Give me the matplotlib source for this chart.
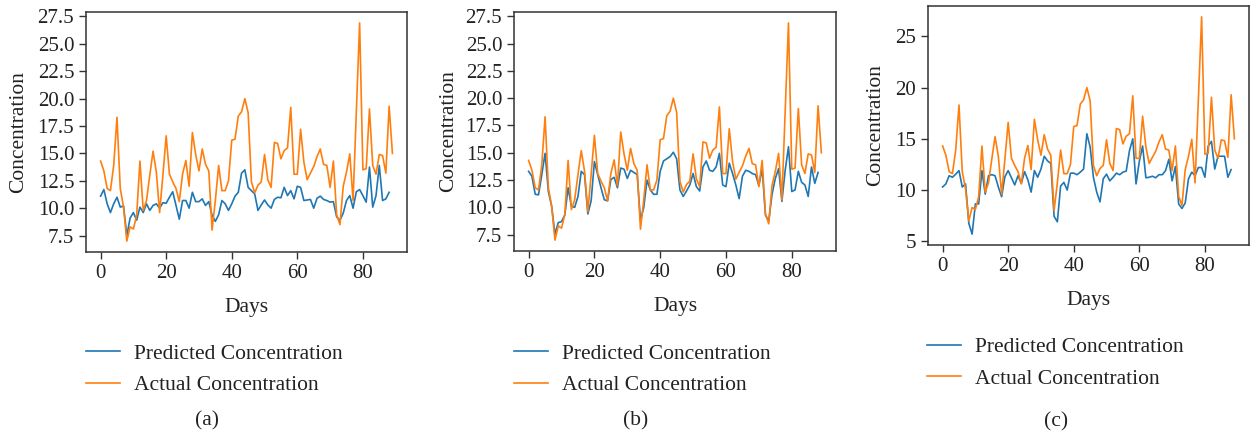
import numpy as np
import matplotlib
matplotlib.use("Agg")
import matplotlib.pyplot as plt

plt.rcParams['font.family'] = ['Liberation Serif', 'DejaVu Serif']
plt.rcParams['font.size'] = 15.5

# actual concentration (same series in all three panels)
actual = [14.3, 13.4, 11.8, 11.6, 13.9, 18.3, 11.8, 10.1, 7.0, 8.3,
          8.1, 9.35, 14.3, 9.8, 10.7, 13.0, 15.2, 13.3, 9.6, 13.0,
          16.6, 13.1, 12.4, 11.8, 10.6, 13.1, 14.35, 12.0, 16.9, 14.9,
          13.4, 15.4, 14.0, 13.4, 8.0, 10.7, 13.9, 11.6, 11.6, 12.5,
          16.2, 16.3, 18.4, 18.8, 20.0, 18.7, 12.4, 11.4, 12.1, 12.4,
          14.9, 12.6, 11.9, 16.0, 15.9, 14.5, 15.25, 15.5, 19.2, 13.1,
          13.1, 17.2, 14.2, 12.6, 13.2, 13.8, 14.7, 15.4, 14.0, 13.9,
          11.9, 14.3, 9.4, 8.5, 12.0, 13.3, 14.95, 10.7, 18.8, 26.9,
          13.5, 13.6, 19.05, 13.9, 13.1, 14.9, 14.8, 13.2, 19.3, 15.0]

# predicted concentration, panels (a), (b), (c)
pred_a = [11.1, 11.7, 10.4, 9.6, 10.4, 11.0, 10.1, 10.2, 7.5, 9.1,
          9.6, 8.9, 10.1, 9.6, 10.4, 9.8, 10.25, 10.4, 10.0, 10.5,
          10.45, 11.0, 11.5, 10.25, 9.0, 10.7, 10.7, 10.0, 11.45, 10.6,
          10.6, 10.85, 10.25, 10.6, 9.35, 8.8, 9.4, 10.7, 10.4, 9.8,
          10.4, 11.1, 11.45, 13.2, 13.5, 11.9, 11.6, 11.3, 9.8, 10.3,
          10.75, 10.3, 10.0, 10.8, 11.0, 10.95, 11.9, 11.15, 11.6, 10.85,
          12.0, 11.9, 10.7, 10.75, 10.8, 10.0, 10.9, 11.1, 10.8, 10.7,
          10.55, 10.6, 9.2, 8.9, 9.55, 10.7, 11.15, 10.0, 11.5, 11.7,
          11.15, 10.55, 13.75, 10.1, 11.15, 13.9, 10.7, 10.85, 11.45]

pred_b = [13.3, 12.85, 11.2, 11.15, 13.0, 14.95, 11.45, 10.1, 7.55, 8.6,
          8.7, 9.3, 11.8, 10.1, 10.0, 11.0, 13.3, 13.0, 9.4, 10.6,
          14.2, 13.0, 11.8, 10.7, 10.6, 12.55, 12.75, 11.8, 13.6, 13.5,
          12.65, 13.4, 13.2, 13.0, 8.8, 10.0, 12.5, 11.6, 11.2, 11.2,
          13.3, 14.25, 14.45, 14.65, 15.05, 14.45, 11.6, 11.0, 11.5, 12.05,
          13.1, 11.9, 11.5, 13.7, 14.25, 13.4, 13.3, 13.7, 14.95, 12.05,
          11.9, 14.05, 13.1, 12.05, 10.8, 12.85, 13.4, 13.3, 13.1, 13.0,
          12.0, 13.55, 9.3, 8.75, 11.2, 12.65, 13.55, 10.55, 13.4, 15.55,
          11.45, 11.6, 13.3, 12.3, 12.05, 11.0, 13.7, 12.2, 13.2]

pred_c = [10.3, 10.6, 11.4, 11.25, 11.55, 11.9, 10.3, 10.6, 6.75, 5.7,
          8.65, 8.65, 11.9, 9.6, 11.4, 11.5, 11.4, 10.3, 9.35, 11.3,
          11.9, 11.2, 10.5, 11.4, 10.65, 11.8, 11.0, 9.8, 11.9, 11.25,
          12.05, 13.3, 12.85, 12.6, 7.45, 6.9, 10.4, 10.75, 10.0, 11.65,
          11.65, 11.5, 11.75, 12.05, 15.5, 14.2, 11.25, 9.8, 8.85, 11.1,
          11.55, 10.9, 11.25, 11.65, 11.5, 11.75, 11.85, 13.85, 15.0, 10.6,
          12.8, 14.3, 11.2, 11.25, 11.35, 11.2, 11.5, 11.5, 11.9, 13.0,
          10.9, 12.3, 8.65, 8.2, 8.75, 11.1, 11.75, 11.4, 12.2, 12.2,
          11.25, 14.3, 14.75, 12.05, 13.3, 13.3, 13.3, 11.25, 12.0]

captions = ['(a)', '(b)', '(c)']
yticks_ab = [7.5, 10.0, 12.5, 15.0, 17.5, 20.0, 22.5, 25.0, 27.5]
yticks_c = [5, 10, 15, 20, 25]
xticks = [0, 20, 40, 60, 80]

W, H = 1251, 436
fig = plt.figure(figsize=(W / 100, H / 100), dpi=100)

# axes boxes in pixels: left, top, right, bottom
boxes = [(86, 12, 407, 252), (514, 12, 836, 251), (928, 6, 1249, 245)]
ylabel_x = [-0.18, -0.173, -0.134]
legend_pos = [(86, 369.5), (514, 369.5), (927, 363)]
caption_pos = [(207, 421), (636, 421), (1056, 422)]

preds = [pred_a, pred_b, pred_c]
for i in range(3):
    l, t, r, b = boxes[i]
    ax = fig.add_axes([l / W, 1 - b / H, (r - l) / W, (b - t) / H])
    p = preds[i]
    ax.plot(np.arange(len(p)), p, color='#1f77b4', lw=1.2, label='Predicted Concentration')
    ax.plot(np.arange(len(actual)), actual, color='#ff7f0e', lw=1.2, label='Actual Concentration')
    ax.set_xticks(xticks)
    ax.set_yticks(yticks_c if i == 2 else yticks_ab)
    if i < 2:
        ax.set_yticklabels(['%.1f' % v for v in yticks_ab])
    ax.tick_params(length=5, width=1, color='#333333', labelcolor='#222222', labelsize=15)
    for s in ax.spines.values():
        s.set_color('#333333')
        s.set_linewidth(1.1)
    ax.set_xlabel('Days', color='#222222')
    ax.xaxis.set_label_coords(0.5, -0.193)
    ax.set_ylabel('Concentration', color='#222222')
    ax.yaxis.set_label_coords(ylabel_x[i], 0.5)

    lx, ly = legend_pos[i]
    ax.legend(loc='center left', bbox_to_anchor=(lx / W, 1 - ly / H),
              bbox_transform=fig.transFigure, frameon=False, borderpad=0,
              borderaxespad=0, handlelength=1.6, handletextpad=0.65,
              labelspacing=0.55, labelcolor='#222222')
    cx, cy = caption_pos[i]
    fig.text(cx / W, 1 - cy / H, captions[i], ha='center', va='center', color='#222222')

fig.savefig('out.png', dpi=100)
